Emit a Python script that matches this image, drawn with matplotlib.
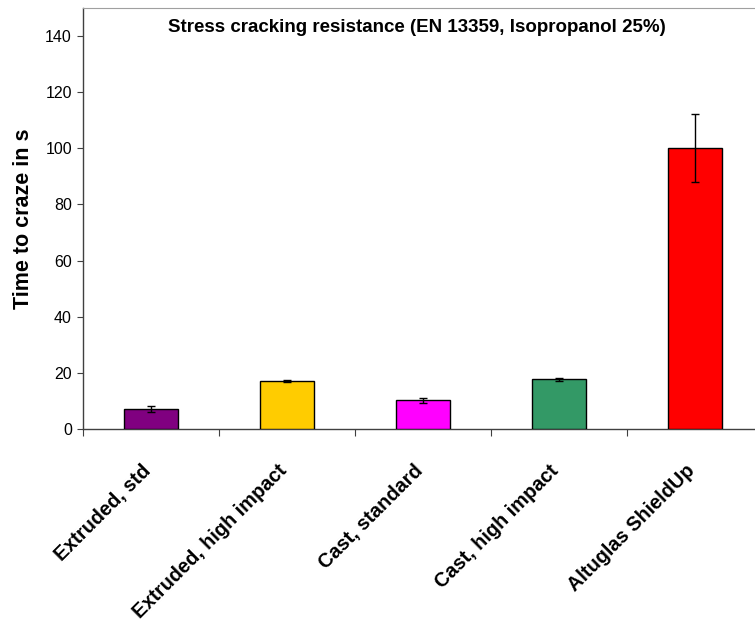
import matplotlib
matplotlib.use("Agg")
import matplotlib.pyplot as plt
import matplotlib.transforms as mtransforms
import numpy as np

categories = ["Extruded, std", "Extruded, high impact", "Cast, standard",
              "Cast, high impact", "Altuglas ShieldUp"]
values = [7.1, 17.1, 10.2, 17.7, 100.0]
errors = [1.1, 0.5, 1.0, 0.6, 12.1]
colors = ["#800080", "#FFCC00", "#FF00FF", "#339966", "#FF0000"]
yticks = [0, 20, 40, 60, 80, 100, 120, 140]

plt.rcParams['font.family'] = ['Liberation Sans', 'DejaVu Sans']

fig = plt.figure(figsize=(7.55, 6.22), dpi=100)
ax = fig.add_axes([83/755, (622-429)/622, (763-83)/755, (429-8)/622])

x = np.arange(len(categories))
ax.bar(x, values, width=0.4, color=colors, edgecolor="black", linewidth=1.0,
       yerr=errors, capsize=2.6, error_kw=dict(elinewidth=1.0, capthick=1.0, ecolor="black"),
       zorder=3)

ax.set_xlim(-0.5, len(categories) - 0.5)
ax.set_ylim(0, 150)
ax.set_yticks(yticks)
ax.tick_params(axis='y', labelsize=11.5, length=4, direction='out', width=0.8,
               color='#404040', pad=4)

ax.set_xticks(np.arange(len(categories) + 1) - 0.5)
ax.set_xticklabels([])
ax.tick_params(axis='x', which='major', length=5, direction='out', width=0.8, color='#404040')
ax.set_xticks(x, minor=True)
ax.set_xticklabels(categories, minor=True, rotation=45, ha='right', va='center',
                   rotation_mode='anchor', fontsize=14.3, fontweight='bold')
ax.tick_params(axis='x', which='minor', length=0, pad=28)
shift = mtransforms.ScaledTranslation(-3/100, 0, fig.dpi_scale_trans)
for lbl in ax.get_xticklabels(minor=True):
    lbl.set_transform(lbl.get_transform() + shift)

for s in ['left', 'bottom']:
    ax.spines[s].set_color('#404040')
    ax.spines[s].set_linewidth(1.0)
ax.spines['top'].set_color('#a0a0a0')
ax.spines['right'].set_visible(False)

ax.set_ylabel("Time to craze in s", fontsize=15.5, fontweight='bold', labelpad=8)
ax.text(0.491, 0.975, "Stress cracking resistance (EN 13359, Isopropanol 25%)",
        transform=ax.transAxes, ha='center', va='top', fontsize=13.5, fontweight='bold')

fig.savefig("out.png", dpi=100)
